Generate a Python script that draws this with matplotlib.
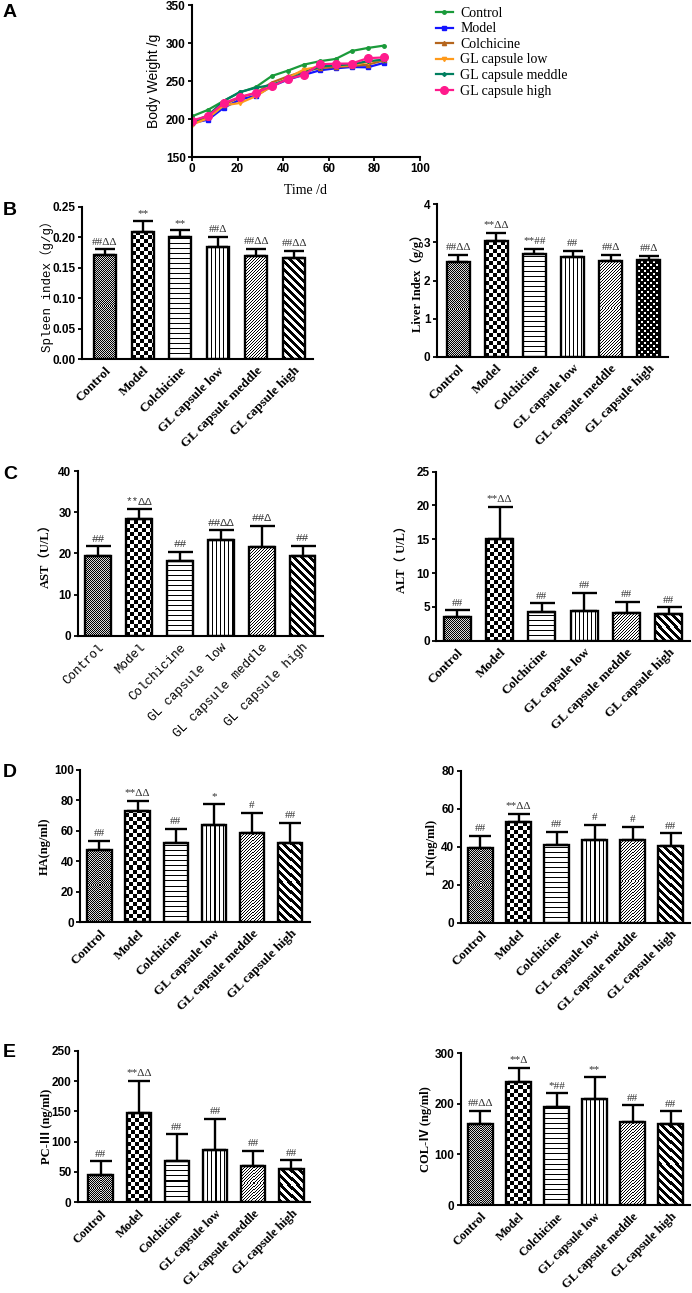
import matplotlib
matplotlib.use("Agg")
import matplotlib.pyplot as plt
import numpy as np

W, H = 692, 1293
SERIF = ["Liberation Serif", "Noto Sans CJK SC"]
SANS = ["Liberation Sans", "DejaVu Sans"]
MONO = ["Liberation Mono", "Noto Sans CJK SC"]

# ---- data ----
groups = ["Control", "Model", "Colchicine", "GL capsule low",
          "GL capsule meddle", "GL capsule high"]

days = [0, 7, 14, 21, 28, 35, 42, 49, 56, 63, 70, 77, 84]
bw_control = [203.5, 212, 224, 235, 242, 256.6, 263.6, 271.5, 276, 279, 289.5, 293.4, 296.5]
bw_model = [194.7, 199, 215, 225.4, 230.7, 243, 251.8, 258, 264, 266.7, 268.4, 268, 273.7]
bw_colch = [195, 202, 219, 228.5, 234, 248, 256, 262.7, 267, 268.4, 269.7, 271.5, 277]
bw_low = [192.5, 201, 218, 221, 230, 243, 254, 265, 269, 270, 270.6, 275, 278]
bw_mid = [196, 204.8, 224, 235.5, 241, 245, 252, 260.5, 269, 270.6, 272, 276, 278]
bw_high = [198, 204, 221, 229, 234.6, 243, 252.6, 258, 272, 272.8, 273, 280, 281]

spleen_mean = [0.171, 0.208, 0.200, 0.184, 0.169, 0.165]
spleen_sd = [0.009, 0.019, 0.011, 0.016, 0.012, 0.012]
spleen_marks = ["##ΔΔ", "**", "**", "##Δ", "##ΔΔ", "##ΔΔ"]

liver_mean = [2.48, 3.04, 2.70, 2.61, 2.52, 2.54]
liver_sd = [0.19, 0.20, 0.12, 0.16, 0.15, 0.10]
liver_marks = ["##ΔΔ", "**ΔΔ", "**##", "##", "##Δ", "##Δ"]

ast_mean = [19.4, 28.3, 18.1, 23.2, 21.5, 19.4]
ast_sd = [2.3, 2.4, 2.2, 2.4, 5.1, 2.4]
ast_marks = ["##", "**ΔΔ", "##", "##ΔΔ", "##Δ", "##"]

alt_mean = [3.55, 15.0, 4.24, 4.39, 4.14, 3.90]
alt_sd = [0.94, 4.8, 1.28, 2.66, 1.63, 1.03]
alt_marks = ["##", "**ΔΔ", "##", "##", "##", "##"]

ha_mean = [47.5, 73.1, 51.9, 63.7, 58.9, 51.9]
ha_sd = [5.9, 6.5, 9.4, 13.8, 13.1, 13.5]
ha_marks = ["##", "**ΔΔ", "##", "*", "#", "##"]

ln_mean = [39.1, 52.8, 40.9, 43.5, 43.3, 40.4]
ln_sd = [6.5, 4.6, 7.0, 8.1, 7.1, 6.6]
ln_marks = ["##", "**ΔΔ", "##", "#", "#", "##"]

pc3_mean = [45.0, 146.7, 68.1, 86.3, 59.9, 54.9]
pc3_sd = [22.6, 53.3, 44.0, 51.6, 25.3, 14.3]
pc3_marks = ["##", "**ΔΔ", "##", "##", "##", "##"]

col4_mean = [159.5, 243.2, 194.5, 209.6, 164.1, 160.8]
col4_sd = [26.4, 28.4, 26.3, 42.9, 33.0, 24.4]
col4_marks = ["##ΔΔ", "**Δ", "*##", "**", "##", "##"]


def box(l, t, r, b):
    return [l / W, 1 - b / H, (r - l) / W, (b - t) / H]


def pattern_fill(ax, bar, kind):
    x0, y0 = bar.get_x(), bar.get_y()
    x1, y1 = x0 + bar.get_width(), y0 + bar.get_height()
    (px0, py0), (px1, py1) = ax.transData.transform([(x0, y0), (x1, y1)])
    w = max(int(round(px1 - px0)), 1)
    h = max(int(round(py1 - py0)), 1)
    jj, ii = np.meshgrid(np.arange(w), np.arange(h))
    if kind == "fine":
        img = ((ii + jj) % 2).astype(float) * 0.85
    elif kind == "checker":
        img = ((ii // 4 + jj // 4) % 2).astype(float)
    elif kind == "hlines":
        img = (ii % 5 != 0).astype(float)
    elif kind == "vlines":
        img = (jj % 4 != 0).astype(float)
    elif kind == "fdiag":
        img = ((ii - jj) % 3 != 0).astype(float)
    elif kind == "bdiag":
        img = ((ii + jj) % 8 >= 4).astype(float)
    else:  # black with white dots
        a = ((ii % 6 >= 1) & (ii % 6 <= 2) & (jj % 6 >= 1) & (jj % 6 <= 2))
        b = ((ii % 6 >= 4) & (jj % 6 >= 4))
        img = (a | b).astype(float)
    im = ax.imshow(img, cmap="gray", vmin=0, vmax=1, origin="lower",
                   extent=(x0, x1, y0, y1), aspect="auto",
                   interpolation="nearest", zorder=1.5)
    im.set_clip_path(bar)


def bar_panel(fig, pos, means, sds, marks, ylim, yticks, yfmt, ylabel,
              ylab_x, lab_fam=SERIF, lab_weight="bold", tick_fam=SERIF,
              tick_weight="bold", mark_fam=SERIF, last="bdiag",
              xlim=(-0.5, 5.5), width=0.62, capsize=8, tick_size=9.5):
    l, t, r, b = pos
    ax = fig.add_axes(box(l, t, r, b))
    x = np.arange(len(groups))
    bars = ax.bar(x, means, width, color="white", edgecolor="none", zorder=1)
    ax.set_xlim(*xlim)
    ax.set_ylim(*ylim)
    kinds = ["fine", "checker", "hlines", "vlines", "fdiag", last]
    for bb, k in zip(bars, kinds):
        pattern_fill(ax, bb, k)
    ax.bar(x, means, width, facecolor="none", edgecolor="black",
           linewidth=1.7, zorder=3)
    ax.errorbar(x, means, yerr=[np.zeros(len(means)), sds], fmt="none",
                ecolor="black", elinewidth=1.7, capsize=capsize,
                capthick=1.7, zorder=2)
    for xi, m, s, mk in zip(x, means, sds, marks):
        ax.annotate(mk, (xi, m + s), xytext=(0, 2), textcoords="offset points",
                    ha="center", va="bottom", fontsize=8, family=mark_fam,
                    color="#333333")
    for sp in ("top", "right"):
        ax.spines[sp].set_visible(False)
    for sp in ("left", "bottom"):
        ax.spines[sp].set_linewidth(1.5)
    ax.set_yticks(yticks)
    ax.set_yticklabels([yfmt.format(v) for v in yticks], family=SANS,
                       weight="bold", fontsize=8.5)
    ax.set_xticks(x)
    ax.set_xticklabels(groups, rotation=45, ha="right", rotation_mode="anchor",
                       family=tick_fam, weight=tick_weight, fontsize=tick_size)
    ax.tick_params(axis="y", length=3, width=1.3, pad=1.5)
    ax.tick_params(axis="x", length=0, pad=4)
    ax.set_ylabel(ylabel, family=lab_fam, weight=lab_weight, fontsize=9,
                  va="center")
    ax.yaxis.set_label_coords((ylab_x - l) / (r - l), 0.5)
    return ax


fig = plt.figure(figsize=(W / 100, H / 100), dpi=100)

# ---- A: body weight ----
axA = fig.add_axes(box(192, 5, 420, 157))
series = [
    ("Control", bw_control, "#1a9a3a", "o", 2.5),
    ("Model", bw_model, "#1414ff", "s", 2.5),
    ("Colchicine", bw_colch, "#b5651d", "^", 3),
    ("GL capsule low", bw_low, "#ff9a1a", "v", 3),
    ("GL capsule meddle", bw_mid, "#007f5f", "D", 2),
    ("GL capsule high", bw_high, "#ff1a8c", "o", 5.5),
]
for name, vals, col, mk, ms in series:
    axA.plot(days, vals, color=col, marker=mk, markersize=ms, linewidth=1.6,
             label=name)
axA.set_xlim(0, 100)
axA.set_ylim(150, 350)
axA.set_xticks(range(0, 101, 20))
axA.set_yticks(range(150, 351, 50))
for lab in axA.get_xticklabels() + axA.get_yticklabels():
    lab.set_family(SANS)
    lab.set_weight("bold")
    lab.set_fontsize(8.5)
for sp in ("top", "right"):
    axA.spines[sp].set_visible(False)
for sp in ("left", "bottom"):
    axA.spines[sp].set_linewidth(1.5)
axA.tick_params(length=3, width=1.3, pad=1.5)
axA.set_xlabel("Time /d", family=SERIF, fontsize=10, labelpad=6)
axA.set_ylabel("Body Weight /g", family=SANS, fontsize=10, va="center")
axA.yaxis.set_label_coords((154 - 192) / 228, 0.5)
axA.legend(loc="upper left", bbox_to_anchor=(436 / W, 1 - 7 / H),
           bbox_transform=fig.transFigure, frameon=False,
           prop=dict(family=SERIF, size=10), handlelength=1.2,
           handletextpad=0.55, labelspacing=0.18, borderaxespad=0, borderpad=0)

# ---- B ----
bar_panel(fig, (82, 206.7, 313, 359), spleen_mean, spleen_sd, spleen_marks,
          (0, 0.25), [0, 0.05, 0.10, 0.15, 0.20, 0.25], "{:.2f}",
          "Spleen index（g/g）", 47, lab_fam=MONO, lab_weight="normal",
          xlim=(-0.6, 5.5), width=0.58, capsize=7)
bar_panel(fig, (436.7, 204.3, 668, 356.7), liver_mean, liver_sd, liver_marks,
          (0, 4), [0, 1, 2, 3, 4], "{:g}", "Liver Index（g/g）", 417,
          last="dots", xlim=(-0.56, 5.5), width=0.6, capsize=7)

# ---- C ----
bar_panel(fig, (77.7, 471, 323, 635.7), ast_mean, ast_sd, ast_marks,
          (0, 40), [0, 10, 20, 30, 40], "{:g}", "AST（U/L）", 47,
          tick_fam=MONO, tick_weight="normal", mark_fam=MONO,
          width=0.63, capsize=9, tick_size=9)
bar_panel(fig, (436, 471.7, 690, 640.7), alt_mean, alt_sd, alt_marks,
          (0, 25), [0, 5, 10, 15, 20, 25], "{:g}", "ALT（ U/L）", 403,
          width=0.63, capsize=9)

# ---- D ----
bar_panel(fig, (80, 770, 310, 922.3), ha_mean, ha_sd, ha_marks,
          (0, 100), [0, 20, 40, 60, 80, 100], "{:g}", "HA(ng/ml)", 45,
          xlim=(-0.51, 5.52), width=0.64)
bar_panel(fig, (460.7, 770.7, 690, 922.7), ln_mean, ln_sd, ln_marks,
          (0, 80), [0, 20, 40, 60, 80], "{:g}", "LN(ng/ml)", 432,
          xlim=(-0.52, 5.51), width=0.64)

# ---- E ----
bar_panel(fig, (77.7, 1050.7, 310, 1202.3), pc3_mean, pc3_sd, pc3_marks,
          (0, 250), [0, 50, 100, 150, 200, 250], "{:g}", "PC-Ⅲ (ng/ml)", 47,
          xlim=(-0.6, 5.49), width=0.64, tick_size=9)
bar_panel(fig, (460.7, 1053.3, 690, 1205), col4_mean, col4_sd, col4_marks,
          (0, 300), [0, 100, 200, 300], "{:g}", "COL-Ⅳ (ng/ml)", 426,
          xlim=(-0.52, 5.51), width=0.64, tick_size=9)

# panel letters
for letter, ty in [("A", 4), ("B", 202), ("C", 466), ("D", 764), ("E", 1044)]:
    fig.text(3 / W, 1 - ty / H, letter, family=SANS, weight="bold",
             fontsize=14, ha="left", va="top")

fig.savefig("out.png", dpi=100)
